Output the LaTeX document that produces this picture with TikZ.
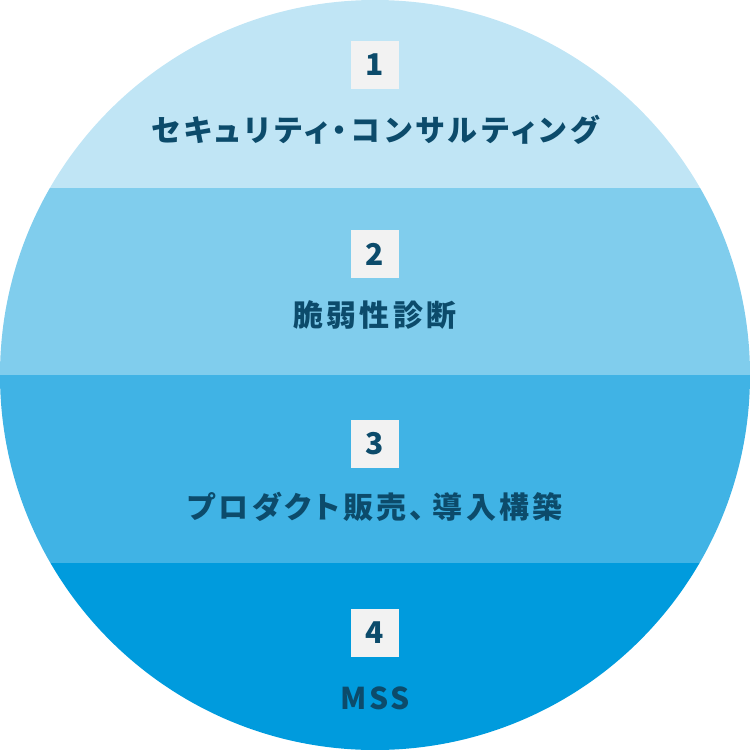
\documentclass[tikz,border=0pt]{standalone}
\usepackage{fontspec}
\usepackage{xcolor}
\usepackage{tikz}
\newfontfamily\jpfont{Noto Sans CJK JP}[RawFeature=+palt]
\definecolor{bandA}{HTML}{C0E5F5}
\definecolor{bandB}{HTML}{80CDED}
\definecolor{bandC}{HTML}{40B3E5}
\definecolor{bandD}{HTML}{009BDD}
\definecolor{inkblue}{HTML}{0C4B6B}
\definecolor{boxgray}{HTML}{F2F2F2}
\tikzset{numbox/.style={fill=boxgray, minimum size=48pt, inner sep=0pt, text=inkblue, font=\jpfont\bfseries\fontsize{30}{36}\selectfont},
titletext/.style={inner sep=0pt, text=inkblue, font=\jpfont\bfseries\addfontfeature{LetterSpace=#1}\fontsize{30}{36}\selectfont},
titletext/.default={11}}

\begin{document}
\begin{tikzpicture}[x=1pt,y=-1pt]
 \useasboundingbox (0,0) rectangle (750,750);
 
 \begin{scope}
 \clip (375,375) circle (375);
 \fill[bandA] (0,0) rectangle (750,187.5);
 \fill[bandB] (0,187.5) rectangle (750,375);
 \fill[bandC] (0,375) rectangle (750,562.5);
 \fill[bandD] (0,562.5) rectangle (750,750);
 \end{scope}
 
 \node[numbox] (num1) at (375,65) {1};
 \node[titletext=13] (title1) at (375,130) {セキュリティ・コンサルティング};
 
 \node[numbox] (num2) at (375,254) {2};
 \node[titletext] (title2) at (375,315) {脆弱性診断};
 
 \node[numbox] (num3) at (375,444) {3};
 \node[titletext] (title3) at (375,507) {プロダクト販売、\hspace{8pt}導入構築};
 
 \node[numbox] (num4) at (375,633) {4};
 \node[titletext=8] (title4) at (375,698) {MSS};

\end{tikzpicture}
\end{document}
